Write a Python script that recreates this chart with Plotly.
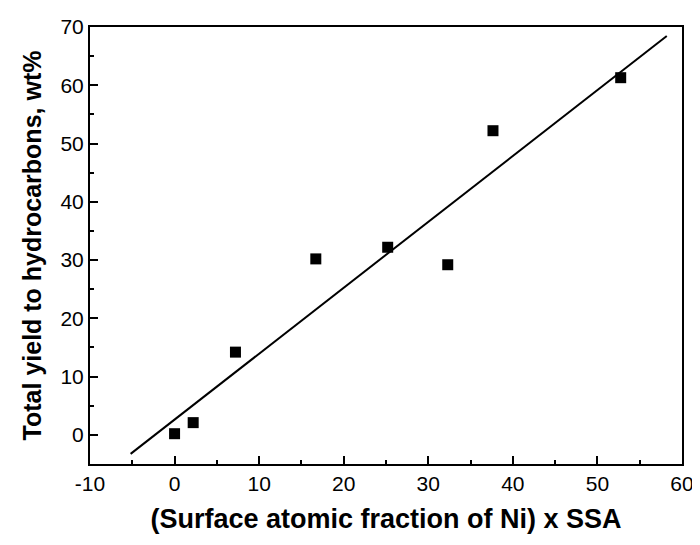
import plotly.graph_objects as go

# Data
x_vals = [0.0, 2.2, 7.2, 16.7, 25.2, 32.3, 37.65, 52.75]
y_vals = [0.2, 2.1, 14.2, 30.2, 32.2, 29.2, 52.2, 61.3]

# Fitted line endpoints (as drawn)
fit_x = [-5.2, 58.2]
fit_y = [-3.26, 68.46]

x_ticks = [-10, 0, 10, 20, 30, 40, 50, 60]
x_ticktext = ["-10", "0", "10", "20", "30", "40", "50", "60"]
y_ticks = [0, 10, 20, 30, 40, 50, 60, 70]
y_ticktext = ["0", "10", "20", "30", "40", "50", "60", "70"]

fig = go.Figure()
fig.add_trace(go.Scatter(x=fit_x, y=fit_y, mode="lines",
                         line=dict(color="black", width=2), showlegend=False))
fig.add_trace(go.Scatter(x=x_vals, y=y_vals, mode="markers",
                         marker=dict(symbol="square", size=11, color="black"),
                         showlegend=False))

font_family = "Liberation Sans, Arial, sans-serif"
axis_common = dict(
    showgrid=False, zeroline=False, showline=True, linecolor="black", linewidth=2,
    mirror=True, ticks="inside", ticklen=8, tickwidth=2, tickcolor="black",
    tickfont=dict(family=font_family, size=21, color="black"),
)

fig.update_xaxes(range=[-10, 60], tickvals=x_ticks, ticktext=x_ticktext,
                 minor=dict(ticks="inside", ticklen=4, tickwidth=2, dtick=5, tickcolor="black"),
                 title=dict(text="<b>(Surface atomic fraction of Ni) x SSA</b>",
                            font=dict(family=font_family, size=27, color="black"), standoff=15),
                 **axis_common)
fig.update_yaxes(range=[-5, 70], tickvals=y_ticks, ticktext=y_ticktext,
                 minor=dict(ticks="inside", ticklen=4, tickwidth=2, dtick=5, tickcolor="black"),
                 title=dict(text="<b>Total yield to hydrocarbons, wt%</b>",
                            font=dict(family=font_family, size=25, color="black"), standoff=12),
                 **axis_common)

fig.update_layout(
    width=692, height=537,
    margin=dict(l=82, r=18, t=19, b=81, autoexpand=False),
    plot_bgcolor="white", paper_bgcolor="white",
    font=dict(family=font_family, color="black"),
)

fig.write_html("out.html")
